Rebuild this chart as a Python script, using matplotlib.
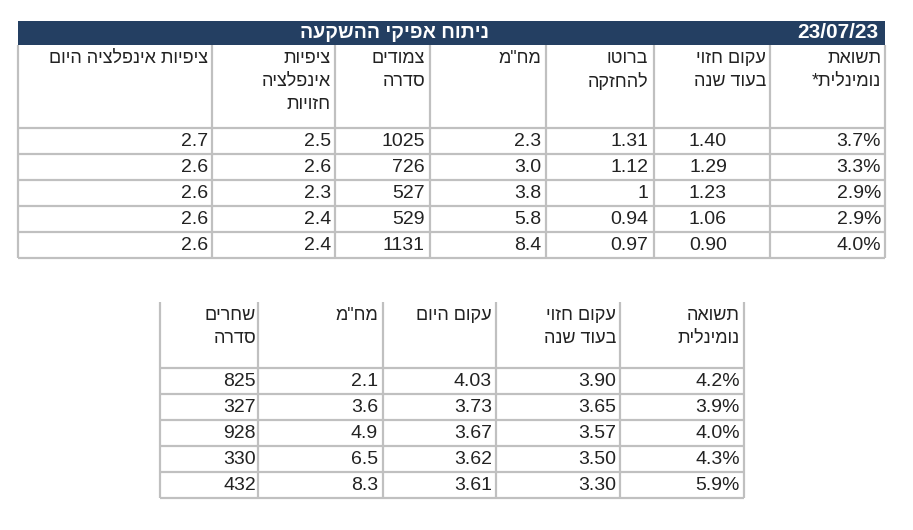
import matplotlib
matplotlib.use("Agg")
import matplotlib.pyplot as plt
from matplotlib import font_manager

names = {f.name for f in font_manager.fontManager.ttflist}
FONT = "Liberation Sans Narrow" if "Liberation Sans Narrow" in names else "Liberation Sans"

title = "ניתוח אפיקי ההשקעה"
date = "23/07/23"

top_headers = ["תשואת\nנומינלית*", "עקום חזוי\nבעוד שנה", "ברוטו\nלהחזקה", "מח\"מ",
               "צמודים\nסדרה", "ציפיות\nאינפלציה\nחזויות", "ציפיות אינפלציה היום"]
top_nominal = ["3.7%", "3.3%", "2.9%", "2.9%", "4.0%"]
top_curve = ["1.40", "1.29", "1.23", "1.06", "0.90"]
top_gross = ["1.31", "1.12", "1", "0.94", "0.97"]
top_duration = ["2.3", "3.0", "3.8", "5.8", "8.4"]
top_series = ["1025", "726", "527", "529", "1131"]
top_infl_exp = ["2.5", "2.6", "2.3", "2.4", "2.4"]
top_infl_now = ["2.7", "2.6", "2.6", "2.6", "2.6"]

bot_headers = ["תשואה\nנומינלית", "עקום חזוי\nבעוד שנה", "עקום היום", "מח\"מ", "שחרים\nסדרה"]
bot_nominal = ["4.2%", "3.9%", "4.0%", "4.3%", "5.9%"]
bot_curve = ["3.90", "3.65", "3.57", "3.50", "3.30"]
bot_today = ["4.03", "3.73", "3.67", "3.62", "3.61"]
bot_duration = ["2.1", "3.6", "4.9", "6.5", "8.3"]
bot_series = ["825", "327", "928", "330", "432"]


def heb(s):
    return "\n".join(line[::-1] for line in s.split("\n"))


fig = plt.figure(figsize=(9.13, 5.30), dpi=100)
ax = fig.add_axes([0, 0, 1, 1])
ax.set_xlim(0, 913)
ax.set_ylim(530, 0)
ax.axis("off")

GRID = "#c0c0c0"
NAVY = "#243f62"


def table(left, right, vlines, head_right, val_right, top, head_bottom, row_h, headers, cols,
          fs=14, hfs=13):
    nrows = len(cols[0])
    bottom = head_bottom + row_h * nrows
    for y in [head_bottom + row_h * i for i in range(nrows + 1)]:
        ax.plot([left, right], [y, y], color=GRID, lw=1.6, solid_capstyle="butt")
    for x in [left, right] + vlines:
        ax.plot([x, x], [top, bottom], color=GRID, lw=1.6, solid_capstyle="butt")
    for h, xr in zip(headers, head_right):
        ax.text(xr, top + 5, heb(h), ha="right", va="top", fontsize=hfs,
                family=FONT, color="#222222", linespacing=1.45)
    for col, xr in zip(cols, val_right):
        for i, v in enumerate(col):
            ax.text(xr, head_bottom + row_h * (i + 0.5) + 1, v, ha="right", va="center",
                    fontsize=fs, family=FONT, color="#222222")


ax.add_patch(plt.Rectangle((18, 21), 867, 24, color=NAVY, lw=0))
ax.text(395, 33, heb(title), ha="center", va="center", color="white",
        fontsize=14, family=FONT, fontweight="bold")
ax.text(878, 33, date, ha="right", va="center", color="white",
        fontsize=15, family=FONT, fontweight="bold")

table(18, 885, [212, 335, 430, 546, 654, 770],
      [881, 766, 648, 541, 425, 331, 208],
      [881, 727, 648, 541, 425, 331, 208],
      45, 128, 26, top_headers,
      [top_nominal, top_curve, top_gross, top_duration, top_series, top_infl_exp, top_infl_now])

table(160, 744, [258, 383, 496, 620],
      [740, 616, 492, 378, 256],
      [740, 616, 492, 378, 256],
      302, 368, 26, bot_headers,
      [bot_nominal, bot_curve, bot_today, bot_duration, bot_series])

fig.savefig("out.png", dpi=100, facecolor="white")
